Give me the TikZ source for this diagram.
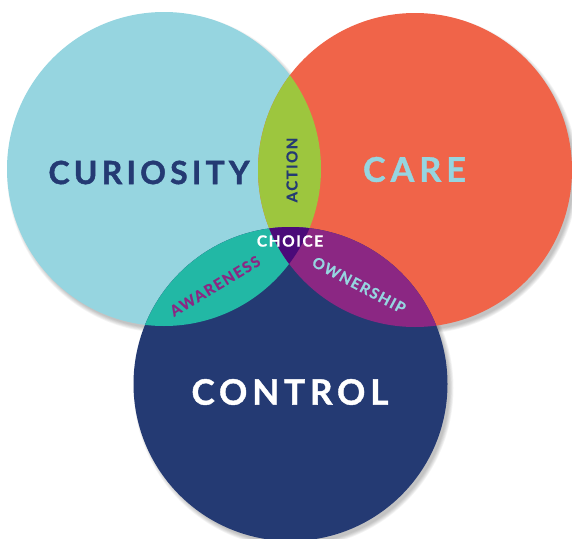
\documentclass[tikz,border=0pt]{standalone}
\usepackage{fontspec}
\newfontfamily\vennbig{Lato}[LetterSpace=13, BoldFeatures={FakeBold=1.2}]
\newfontfamily\venncare{Lato}[LetterSpace=15, BoldFeatures={FakeBold=1.2}]
\newfontfamily\venncontrol{Lato}[LetterSpace=14, BoldFeatures={FakeBold=1.2}]
\newfontfamily\vennsmall{Lato}[LetterSpace=10, BoldFeatures={FakeBold=0.8}]
\definecolor{curiosityblue}{HTML}{96D5E0}
\definecolor{careorange}{HTML}{F06449}
\definecolor{controlnavy}{HTML}{243A73}
\definecolor{actiongreen}{HTML}{9DC63E}
\definecolor{awarenessteal}{HTML}{22B8A5}
\definecolor{ownershippurple}{HTML}{8B2783}
\definecolor{choicepurple}{HTML}{4B0A79}
\begin{document}
\begin{tikzpicture}[x=1pt,y=-1pt,
  bigword/.style={font=\vennbig\bfseries\fontsize{32}{32}\selectfont, inner sep=0pt},
  smallword/.style={font=\vennsmall\bfseries\fontsize{15}{15}\selectfont, inner sep=0pt}]
\useasboundingbox (0,0) rectangle (572,538);
% circle centres and radius
\coordinate (cL) at (164,169);
\coordinate (cR) at (415,170);
\coordinate (cB) at (290.5,384);
\def\rad{157pt}
% soft shadows down and to the right
\foreach \c in {cL,cR,cB}{
  \foreach \k in {0,1,...,5}{
    \fill[black,opacity=0.045] ([shift={(3,4)}]\c) circle[radius=\rad+3pt-0.8pt*\k];
  }
}
% the three circles
\fill[curiosityblue] (cL) circle[radius=\rad];
\fill[careorange] (cR) circle[radius=\rad];
\fill[controlnavy] (cB) circle[radius=\rad];
% pairwise overlaps
\begin{scope}
  \clip (cL) circle[radius=\rad];
  \fill[actiongreen] (cR) circle[radius=\rad];
  \fill[awarenessteal] (cB) circle[radius=\rad];
\end{scope}
\begin{scope}
  \clip (cR) circle[radius=\rad];
  \fill[ownershippurple] (cB) circle[radius=\rad];
\end{scope}
% centre overlap
\begin{scope}
  \clip (cL) circle[radius=\rad];
  \clip (cR) circle[radius=\rad];
  \fill[choicepurple] (cB) circle[radius=\rad];
\end{scope}
% labels
\node[bigword, text=controlnavy] (curiosity) at (149,172.5) {CURIOSITY};
\node[bigword, text=curiosityblue, font=\venncare\bfseries\fontsize{34}{34}\selectfont] (care) at (414.5,169.5) {CARE};
\node[bigword, text=white, font=\venncontrol\bfseries\fontsize{35}{35}\selectfont] (control) at (290,392) {CONTROL};
\node[smallword, text=controlnavy, rotate=90] (action) at (292,170) {ACTION};
\node[smallword, text=white, font=\vennsmall\bfseries\fontsize{15.5}{15.5}\selectfont] (choice) at (290,241) {CHOICE};
\node[smallword, text=ownershippurple, rotate=31] (awareness) at (215,286) {AWARENESS};
\node[smallword, text=curiosityblue, rotate=-28] (ownership) at (359,285) {OWNERSHIP};
\end{tikzpicture}
\end{document}
